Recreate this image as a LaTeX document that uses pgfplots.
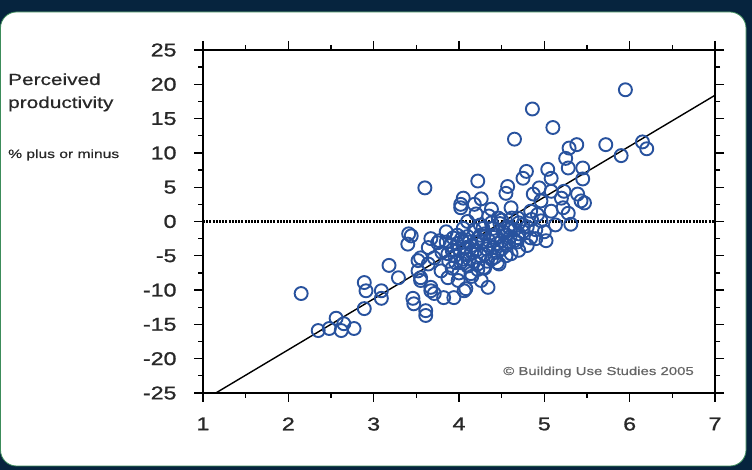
\documentclass[border=0pt]{standalone}
\usepackage{fontspec}
\setmainfont{Liberation Sans}[FakeStretch=1.3]
\newfontfamily\tickfont{Liberation Sans}[FakeStretch=1.25,FakeBold=1.2]
\newfontfamily\labfont{Liberation Sans}[FakeStretch=1.3,FakeBold=0.6]
\usepackage{pgfplots}
\pgfplotsset{compat=1.18}
\definecolor{bg}{RGB}{6,36,62}
\definecolor{mk}{RGB}{40,82,158}
\definecolor{edge}{RGB}{60,140,90}
\definecolor{txt}{RGB}{40,40,40}

\pgfplotstableread{
x y
2.15 -10.5
2.35 -15.9
2.48 -15.6
2.56 -14.1
2.62 -15.9
2.65 -14.9
2.77 -15.6
2.89 -8.9
2.91 -10.1
2.89 -12.7
3.09 -10.1
3.09 -11.2
3.18 -6.4
3.29 -8.2
3.41 -1.8
3.40 -3.3
3.60 4.9
3.46 -11.2
3.47 -12.0
3.61 -13.0
3.61 -13.7
3.71 -10.5
3.82 -11.1
3.67 -9.6
3.55 -8.2
3.52 -7.2
3.79 -7.2
3.87 -8.2
3.64 -6.2
3.55 -5.3
3.67 -2.5
3.75 -3.1
3.52 -5.7
3.55 -8.6
3.67 -10.1
4.06 -10.1
4.14 -7.6
4.22 -6.2
3.71 -5.3
3.87 -4.7
3.64 -3.8
3.44 -2.1
3.77 -2.8
3.93 -2.4
4.05 3.4
4.02 2.5
4.18 2.5
4.22 5.9
4.34 -9.6
4.08 -9.8
4.26 -8.6
3.99 -8.6
3.94 -11.1
4.47 -6.2
4.29 -6.7
4.61 -4.7
4.69 -2.4
4.84 -2.4
5.02 -2.8
4.86 16.4
4.65 12.0
5.10 13.7
5.95 19.2
5.72 11.2
5.90 9.6
6.15 11.6
6.20 10.6
5.29 10.7
5.38 11.2
5.25 9.2
5.45 7.8
5.28 7.8
5.45 6.2
5.47 2.7
5.39 4.0
5.04 7.6
5.08 6.3
4.79 7.3
4.75 6.3
4.57 5.1
4.55 4.1
4.02 2.0
4.26 3.3
4.87 4.0
4.94 4.9
4.96 3.0
5.20 3.4
5.22 2.0
5.28 1.2
5.08 1.5
4.84 1.5
4.61 2.0
4.38 1.8
4.46 0.5
4.20 1.1
4.69 0.5
4.96 0.1
5.23 4.4
5.08 4.4
5.43 3.0
5.31 -0.4
5.13 -0.5
3.85 -1.5
3.90 -3.5
3.95 -5.0
3.98 -2.0
4.00 -4.0
4.02 -6.0
4.05 -1.0
4.05 -3.0
4.08 -4.8
4.10 -2.2
4.10 0.0
4.12 -5.5
4.15 -3.5
4.18 -1.2
4.20 -4.2
4.22 -2.5
4.25 -0.5
4.25 -5.0
4.28 -3.0
4.30 -1.8
4.32 -4.0
4.35 0.8
4.35 -2.8
4.38 -5.5
4.40 -1.0
4.40 -3.8
4.43 -2.0
4.45 -4.5
4.48 -0.3
4.50 -2.8
4.52 -1.5
4.55 -3.5
4.58 -0.8
4.60 -2.2
4.62 0.5
4.65 -1.2
4.68 -3.0
4.70 -0.2
4.75 -1.5
4.80 -0.8
4.85 0.3
4.90 -1.2
4.92 1.0
3.80 -4.5
3.88 -5.8
3.92 -6.8
4.00 -7.5
4.15 -8.0
4.30 -6.8
4.45 -6.0
4.55 -5.0
4.70 -4.2
4.80 -3.5
4.90 -2.5
5.00 -1.5
4.05 -5.5
4.10 -6.5
4.15 -4.5
4.20 -3.0
4.25 -2.0
4.30 -4.8
4.35 -3.5
4.40 -2.3
4.45 -3.2
4.50 -4.0
4.55 -2.0
4.60 -1.0
4.65 -2.8
4.70 -1.8
4.75 -0.5
4.12 -3.0
4.18 -5.8
3.98 -3.2
3.92 -4.2
4.03 -2.5
4.28 -1.0
4.38 -0.2
4.50 0.2
4.58 -3.0
4.42 -5.2
4.33 -5.8
4.22 -7.0
3.85 -3.0
3.96 -6.0
4.08 -3.8
}\pts

\begin{document}
\begin{tikzpicture}[x=1bp,y=1bp]
\fill[bg] (0,0) rectangle (752,470);
\fill[white,draw=edge,line width=0.8bp,rounded corners=16bp] (0.5,4) rectangle (746,458);

\node[anchor=base west,font=\labfont\fontsize{16bp}{18bp}\selectfont,text=txt,inner sep=0] at (8,385) {Perceived};
\node[anchor=base west,font=\labfont\fontsize{16bp}{18bp}\selectfont,text=txt,inner sep=0] at (8,362) {productivity};
\node[anchor=base west,font=\labfont\fontsize{12bp}{14bp}\selectfont,text=txt,inner sep=0] at (8,312) {\% plus or minus};

\begin{axis}[
  at={(203bp,77bp)}, anchor=south west,
  scale only axis, width=512bp, height=343bp,
  xmin=1, xmax=7, ymin=-25, ymax=25,
  xtick={1,2,...,7}, ytick={-25,-20,...,25},
  minor x tick num=1, minor y tick num=1,
  tick align=outside,
  major tick length=9bp, minor tick length=5bp,
  every tick/.style={black,line width=1.3bp},
  axis line style={black,line width=1.5bp},
  /pgf/number format/assume math mode=true,
  ticklabel style={font=\tickfont\fontsize{18.5bp}{20bp}\selectfont,text=txt},
  xticklabel style={yshift=-12bp},
  yticklabel style={xshift=-14bp},
  xticklabel pos=bottom, yticklabel pos=left,
  clip=false,
]
\addplot[black,line width=2.2bp,dash pattern=on 2bp off 1.2bp] coordinates {(1,0) (7,0)};
\addplot[black,line width=1.4bp] coordinates {(1.15,-25) (7,18.4)};
\addplot[only marks,mark=o,mark size=6.5bp,mark options={mk,line width=1.9bp}] table[x=x,y=y] {\pts};
\end{axis}

\node[anchor=base east,font=\labfont\fontsize{11.5bp}{13bp}\selectfont,text=black!60,inner sep=0] at (694,95) {© Building Use Studies 2005};
\end{tikzpicture}
\end{document}
